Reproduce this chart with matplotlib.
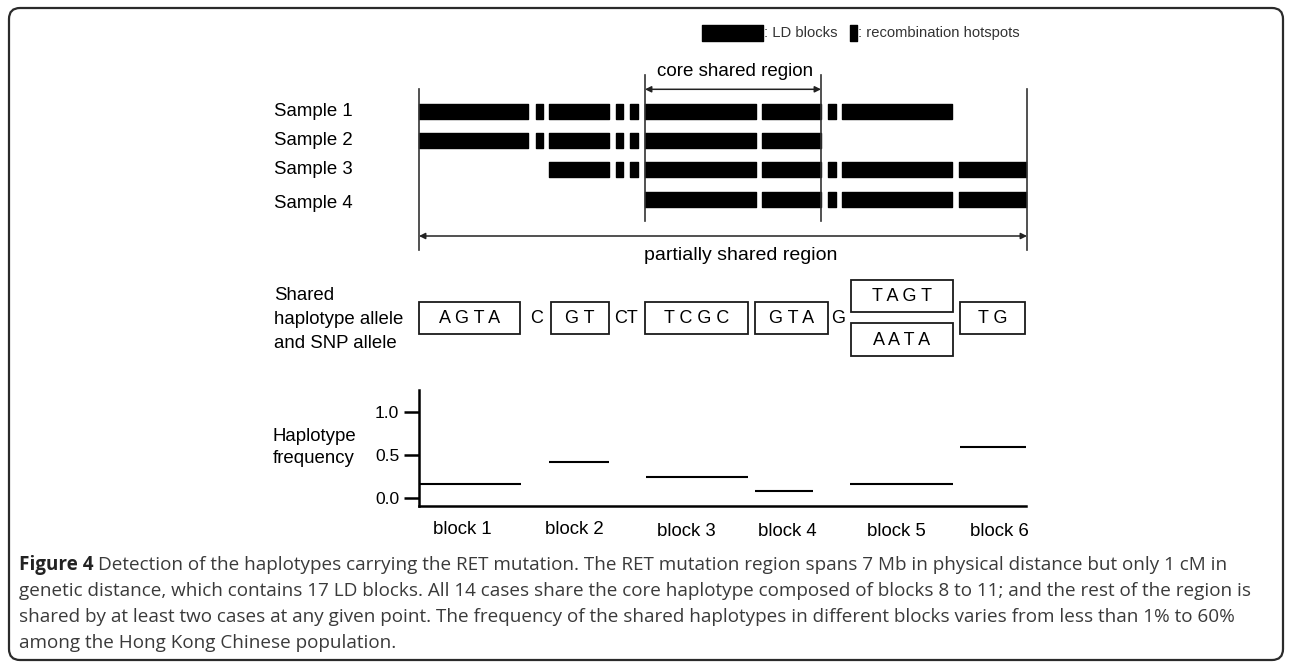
import matplotlib
matplotlib.use("Agg")
import matplotlib.pyplot as plt
from matplotlib.patches import Rectangle, FancyBboxPatch

W, H = 1292, 662

# ---- haplotype sharing diagram (x in diagram units along the region) ----
ld_blocks = [(419, 528), (549, 609), (645, 756), (762, 821), (842, 952), (959, 1026)]
hotspots = [(535.5, 543), (615.5, 623), (630, 638), (828, 835.5)]
samples = ["Sample 1", "Sample 2", "Sample 3", "Sample 4"]
sample_span = [(419, 952), (419, 821), (549, 1026), (645, 1026)]
core_region = (645, 821)
partial_region = (419, 1027)

hap_alleles = ["A G T A", "G T", "T C G C", "G T A", "T A G T", "T G"]
hap_alt = {4: "A A T A"}
hap_span = [(419, 520), (550.5, 609), (645, 747.5), (755, 828), (850.5, 952.5), (959.5, 1025)]
snp_alleles = ["C", "CT", "G"]
snp_pos = [537, 626, 838]

# ---- haplotype frequency per block ----
block_names = ["block 1", "block 2", "block 3", "block 4", "block 5", "block 6"]
block_label_x = [462, 574, 686, 787, 896, 999]
freq = [0.165, 0.42, 0.25, 0.085, 0.165, 0.59]
freq_span = [(419, 521), (549, 609), (646, 748), (755, 813), (850, 953), (960, 1026)]
freq_ticks = [0.0, 0.5, 1.0]

caption = [
    "Detection of the haplotypes carrying the RET mutation. The RET mutation region spans 7 Mb in physical distance but only 1 cM in",
    "genetic distance, which contains 17 LD blocks. All 14 cases share the core haplotype composed of blocks 8 to 11; and the rest of the region is",
    "shared by at least two cases at any given point. The frequency of the shared haplotypes in different blocks varies from less than 1% to 60%",
    "among the Hong Kong Chinese population.",
]

plt.rcParams["font.family"] = ["Liberation Sans", "DejaVu Sans"]
fig = plt.figure(figsize=(W / 100, H / 100), dpi=100)
ax = fig.add_axes([0, 0, 1, 1])
ax.set_xlim(0, W)
ax.set_ylim(H, 0)
ax.axis("off")

# frame
ax.add_patch(FancyBboxPatch((9, 8), 1274, 652, boxstyle="round,pad=0,rounding_size=11",
                            lw=1.6, edgecolor="#2b2b2b", facecolor="none"))

# legend
ax.broken_barh([(702, 61)], (25, 16), color="black")
ax.text(764, 33, ": LD blocks", fontsize=10.6, color="#333333", va="center")
ax.broken_barh([(849.5, 7)], (25, 16), color="black")
ax.text(858, 33, ": recombination hotspots", fontsize=10.6, color="#333333", va="center")

lab_fs = 13.4

# sample rows
row_y = [111.5, 140.7, 169.7, 199.2]
label_y = [111.7, 140.3, 169.5, 203.0]
bar_h = 15
for name, (s0, s1), yc, ly in zip(samples, sample_span, row_y, label_y):
    segs = [(a, b - a) for a, b in ld_blocks + hotspots if a >= s0 and b <= s1 + 1]
    ax.broken_barh(segs, (yc - bar_h / 2, bar_h), color="black")
    ax.text(274, ly, name, fontsize=lab_fs, va="center", ha="left")

# region boundary lines and arrows
for x in partial_region:
    ax.plot([x, x], [89, 250], color="#333333", lw=1.2)
for x in core_region:
    ax.plot([x, x], [75, 221], color="#333333", lw=1.2)
arrow = dict(arrowstyle="<|-|>", lw=1.1, color="#222222", shrinkA=0, shrinkB=0, mutation_scale=9)
ax.annotate("", xy=(core_region[1], 89.3), xytext=(core_region[0], 89.3), arrowprops=arrow)
ax.annotate("", xy=(partial_region[1], 236), xytext=(partial_region[0], 236), arrowprops=arrow)
ax.text(sum(core_region) / 2 + 2, 72, "core shared region", fontsize=13.5, ha="center", va="center")
ax.text(741, 255, "partially shared region", fontsize=14, ha="center", va="center")

# shared alleles
ax.text(274, 295, "Shared", fontsize=lab_fs, va="center")
ax.text(274, 319.5, "haplotype allele", fontsize=lab_fs, va="center")
ax.text(274, 343.5, "and SNP allele", fontsize=lab_fs, va="center")
for i, (lab, (a, b)) in enumerate(zip(hap_alleles, hap_span)):
    if i in hap_alt:
        boxes = [(280, 312.3, lab), (323.3, 356, hap_alt[i])]
    else:
        boxes = [(301.7, 334, lab)]
    for y0, y1, t in boxes:
        ax.add_patch(Rectangle((a, y0), b - a, y1 - y0, fill=False, lw=1.3, edgecolor="#1a1a1a"))
        ax.text((a + b) / 2, (y0 + y1) / 2 + 0.5, t, fontsize=13, ha="center", va="center")
for lab, x in zip(snp_alleles, snp_pos):
    ax.text(x, 318.5, lab, fontsize=13, ha="center", va="center")

# frequency panel
ax.text(273, 436.5, "Haplotype", fontsize=lab_fs, va="center")
ax.text(273, 458.5, "frequency", fontsize=lab_fs, va="center")
x0, x1, ytop, ybot = 419, 1026, 390, 506
px_per_unit = 86.6
y_zero = 498.3
ax2 = fig.add_axes([x0 / W, 1 - ybot / H, (x1 - x0) / W, (ybot - ytop) / H])
ax2.set_xlim(x0, x1)
ax2.set_ylim(-(ybot - y_zero) / px_per_unit, (y_zero - ytop) / px_per_unit)
ax2.patch.set_alpha(0)
for s in ["top", "right"]:
    ax2.spines[s].set_visible(False)
for s in ["left", "bottom"]:
    ax2.spines[s].set_linewidth(1.8)
ax2.set_xticks([])
ax2.set_yticks(freq_ticks)
ax2.set_yticklabels([f"{t:.1f}" for t in freq_ticks], fontsize=12.6)
ax2.tick_params(axis="y", length=10.8, width=1.8, pad=3.5)
for f, (a, b) in zip(freq, freq_span):
    ax2.hlines(f, a, b, color="black", lw=1.5, clip_on=False)

for name, x in zip(block_names, block_label_x):
    ax.text(x, 529 if name in ("block 1", "block 2") else 531.5, name, fontsize=lab_fs,
            ha="center", va="center")

# caption
cap_font = ["Open Sans", "DejaVu Sans"]
cap_y = [565, 590.5, 617, 643]
fs = 13.6
r = fig.canvas.get_renderer()
t = ax.text(19, cap_y[0], "Figure 4", fontsize=fs, fontweight="bold", family=cap_font,
            color="#222222", va="center")
bb = t.get_window_extent(renderer=r)
ax.text(19 + bb.width + 5, cap_y[0], caption[0], fontsize=fs, family=cap_font,
        color="#3a3a3a", va="center")
for line, y in zip(caption[1:], cap_y[1:]):
    ax.text(19, y, line, fontsize=fs, family=cap_font, color="#3a3a3a", va="center")

fig.savefig("out.png", dpi=100)
